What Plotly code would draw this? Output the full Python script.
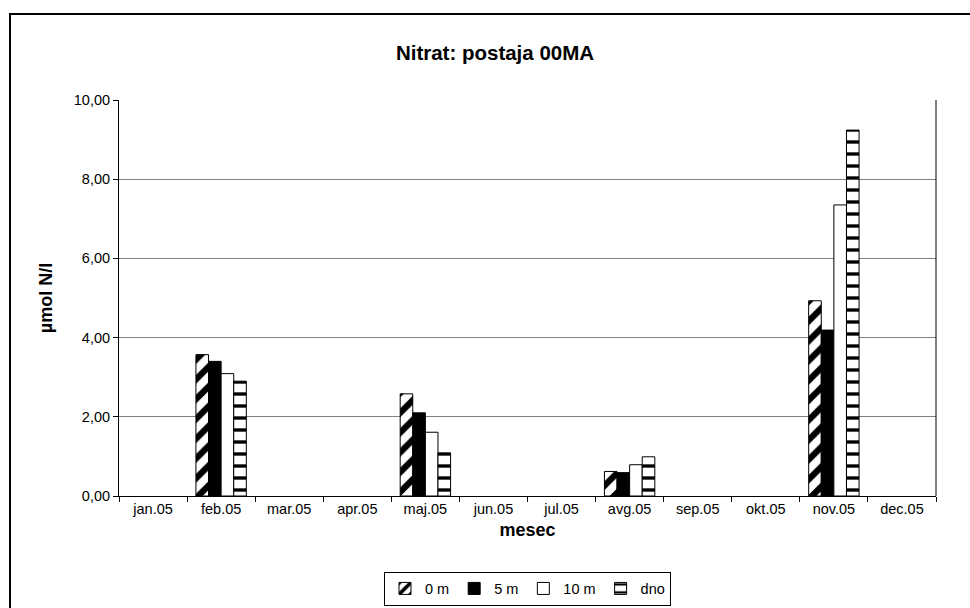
import plotly.graph_objects as go

months = ["jan.05", "feb.05", "mar.05", "apr.05", "maj.05", "jun.05",
          "jul.05", "avg.05", "sep.05", "okt.05", "nov.05", "dec.05"]
v_0m = [None, 3.57, None, None, 2.58, None, None, 0.62, None, None, 4.93, None]
v_5m = [None, 3.40, None, None, 2.10, None, None, 0.59, None, None, 4.19, None]
v_10m = [None, 3.09, None, None, 1.61, None, None, 0.79, None, None, 7.35, None]
v_dno = [None, 2.90, None, None, 1.09, None, None, 0.99, None, None, 9.24, None]
y_ticks = [0, 2, 4, 6, 8, 10]

FONT = "Liberation Sans, Arial, sans-serif"

fig = go.Figure()
fig.add_trace(go.Bar(x=months, y=v_0m, name="0 m",
                     marker=dict(color="white", line=dict(color="black", width=1),
                                 pattern=dict(shape="/", fgcolor="black", bgcolor="white",
                                              fgopacity=1, size=14, solidity=0.45))))
fig.add_trace(go.Bar(x=months, y=v_5m, name="5 m",
                     marker=dict(color="black", line=dict(color="black", width=1))))
fig.add_trace(go.Bar(x=months, y=v_10m, name="10 m",
                     marker=dict(color="white", line=dict(color="black", width=1))))
fig.add_trace(go.Bar(x=months, y=v_dno, name="dno",
                     marker=dict(color="white", line=dict(color="black", width=1),
                                 pattern=dict(shape="-", fgcolor="black", bgcolor="white",
                                              fgopacity=1, size=12, solidity=0.28))))

L, R, T, B = 119, 936, 100, 496
W, H = 970, 608
pw, ph = R - L, B - T

def px_x(x):
    return (x - L) / pw

def px_y(y):
    return (B - y) / ph

fig.update_layout(
    width=W, height=H,
    margin=dict(l=L, r=W - R, t=T, b=H - B, pad=0, autoexpand=False),
    paper_bgcolor="white", plot_bgcolor="white",
    barmode="group", bargap=0.26, bargroupgap=0,
    font=dict(family=FONT, size=14, color="black"),
    title=dict(text="<b>Nitrat: postaja 00MA</b>", x=495 / W, xanchor="center",
               y=1 - 53 / H, yanchor="middle", xref="container", yref="container",
               font=dict(size=20.5, family=FONT, color="black")),
    showlegend=True,
    legend=dict(orientation="h", x=0.5, xanchor="center", y=px_y(588.5), yanchor="middle",
                bordercolor="black", borderwidth=1, bgcolor="white",
                font=dict(size=14.5, family=FONT), itemwidth=30, traceorder="normal",
                tracegroupgap=0),
    xaxis=dict(type="category", categoryorder="array", categoryarray=months,
               showline=True, linecolor="black", linewidth=1, mirror=False,
               ticks="outside", tickson="boundaries", ticklen=5, tickcolor="black",
               tickfont=dict(size=14.5, family=FONT), showgrid=False,
               title=dict(text="<b>mesec</b>", font=dict(size=18, family=FONT), standoff=6)),
    yaxis=dict(range=[0, 10], tickvals=y_ticks, tickformat=".2f",
               showline=True, linecolor="black", linewidth=1,
               ticks="outside", ticklen=5, tickcolor="black",
               tickfont=dict(size=14.5, family=FONT),
               showgrid=True, gridcolor="#808080", gridwidth=1, zeroline=False,
               title=dict(text="<b>µmol N/l</b>", font=dict(size=18, family=FONT), standoff=16)),
    separators=",.",
)

# right border of plot area
fig.add_shape(type="line", xref="paper", yref="paper", x0=1, x1=1, y0=0, y1=1,
              line=dict(color="black", width=1))
# outer chart border
fig.add_shape(type="rect", xref="paper", yref="paper",
              x0=px_x(10), x1=px_x(990), y0=px_y(14), y1=px_y(640),
              line=dict(color="black", width=2), fillcolor="rgba(0,0,0,0)", layer="above")

fig.write_html("out.html")
